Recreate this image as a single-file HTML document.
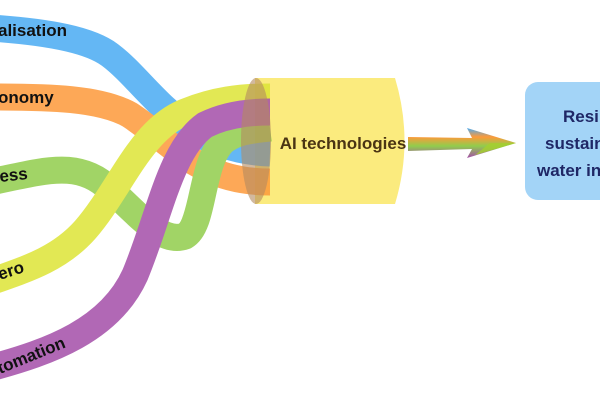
<!DOCTYPE html>
<html><head><meta charset="utf-8"><style>
body{margin:0;background:#fff;width:600px;height:400px;overflow:hidden}
svg{display:block}
text{font-family:"Liberation Sans",sans-serif;font-weight:bold}
</style></head><body>
<svg width="600" height="400" viewBox="0 0 600 400">
<path d="M255,78 L395,78 Q414,141 395,204 L255,204 Z" fill="#fbeb7e"/>
<g fill="none" stroke-width="27" opacity="0.85">
<path d="M-10,28 C50,32 90,40 110,55 C150,85 180,150 270,153" stroke="#4aabf3"/>
<path d="M-10,97 C50,97 100,98 130,115 C175,145 200,182 270,182" stroke="#fd9a3a"/>
<path d="M-10,182 C40,172 75,160 105,185 C135,210 160,245 185,236 C205,225 200,160 225,140 C240,130 255,130 270,128" stroke="#91cd4c"/>
<path d="M-10,282 C30,268 60,258 85,230 C120,190 140,130 185,112 C215,100 240,97 270,97" stroke="#dde437"/>
<path d="M-10,368 C50,352 110,330 135,275 C160,215 170,150 205,125 C225,115 250,112 270,112" stroke="#a44ea9"/>
</g>
<ellipse cx="256" cy="141" rx="15" ry="63" fill="#b48a5f" opacity="0.6"/>
<text x="343" y="149" font-size="17" fill="#4a3413" text-anchor="middle">AI technologies</text>
<defs><linearGradient id="g" x1="0" y1="0" x2="0" y2="1">
<stop offset="0" stop-color="#4aabf3"/><stop offset="0.3" stop-color="#fd9a3a"/><stop offset="0.6" stop-color="#91cd4c"/><stop offset="1" stop-color="#a44ea9"/></linearGradient></defs>
<path d="M408,137 L472,138 L467,128 L516,143 L467,158 L472,149 L408,151 Z" fill="url(#g)"/>
<path d="M490,143 L516,143 L475,155 Z" fill="#a5cf2e" opacity="0.8"/>
<rect x="525" y="82" width="100" height="118" rx="13" fill="#a3d4f7"/>
<g fill="#1f2766" font-size="17">
<text x="563" y="122">Resilient</text>
<text x="545" y="149">sustainable</text>
<text x="537" y="176">water infrastructure</text>
</g>
<g font-size="17" fill="#111">
<text x="-2" y="36">alisation</text>
<text x="-2" y="103">onomy</text>
<text x="0" y="182" transform="rotate(-6 0 182)">ess</text>
<text x="0" y="280" transform="rotate(-18 0 280)">ero</text>
<text x="0" y="374" transform="rotate(-22 0 374)">tomation</text>
</g>
</svg>
</body></html>
